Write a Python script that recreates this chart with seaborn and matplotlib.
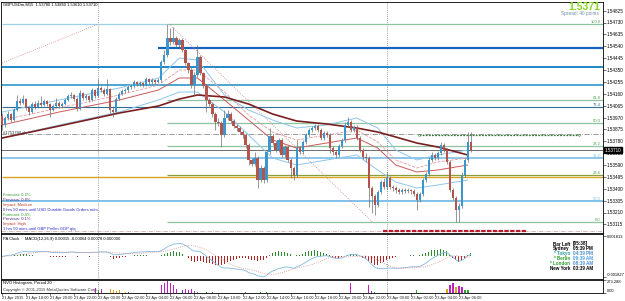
import numpy as np
import pandas as pd
import seaborn as sns
import matplotlib.pyplot as plt

# GBPUSD M15 bars, prices in points (1e-5)
first_open = 153982
closes = [153910, 153966, 153998, 153950, 154030, 154102, 154086, 154118, 154046, 154014,
          154078, 154054, 154086, 154070, 154102, 154078, 154030, 154062, 154086, 154062,
          154078, 154110, 154142, 154150, 154118, 154038, 154166, 154126, 154142, 154110,
          154190, 154142, 154206, 154190, 154158, 154198, 154030, 154014, 154118, 154158,
          154182, 154190, 154214, 154222, 154254, 154238, 154246, 154230, 154278, 154254,
          154270, 154254, 154270, 154414, 154470, 154606, 154574, 154606, 154550, 154590,
          154510, 154406, 154350, 154230, 154310, 154454, 154326, 154222, 154110, 154078,
          153998, 153934, 153926, 153830, 153966, 153998, 153942, 153902, 153886, 153854,
          153830, 153750, 153630, 153598, 153646, 153470, 153566, 153470, 153694, 153822,
          153766, 153710, 153790, 153670, 153734, 153630, 153566, 153510, 153726, 153694,
          153774, 153830, 153870, 153886, 153902, 153870, 153806, 153846, 153830, 153726,
          153694, 153670, 153742, 153790, 153910, 153934, 153870, 153894, 153806, 153710,
          153654, 153646, 153406, 153342, 153270, 153374, 153454, 153414, 153486, 153414,
          153406, 153390, 153374, 153390, 153382, 153390, 153382, 153358, 153310, 153358,
          153470, 153518, 153630, 153670, 153646, 153686, 153750, 153710, 153614, 153390,
          153326, 153230, 153262, 153510, 153630, 153774, 153710]
highs = [154006, 153982, 154022, 154006, 154046, 154150, 154126, 154150, 154126, 154062,
         154094, 154102, 154110, 154142, 154118, 154110, 154086, 154078, 154126, 154102,
         154094, 154126, 154158, 154174, 154158, 154134, 154190, 154174, 154158, 154150,
         154206, 154198, 154278, 154222, 154206, 154278, 154206, 154062, 154134, 154174,
         154198, 154206, 154230, 154238, 154270, 154262, 154262, 154254, 154294, 154286,
         154286, 154278, 154286, 154430, 154510, 154718, 154686, 154694, 154622, 154606,
         154606, 154526, 154414, 154374, 154334, 154550, 154470, 154334, 154238, 154126,
         154094, 154014, 153966, 153942, 154030, 154030, 154014, 153958, 153918, 153902,
         153870, 153846, 153766, 153646, 153694, 153662, 153590, 153582, 153710, 153886,
         153838, 153782, 153806, 153806, 153750, 153750, 153646, 153582, 153790, 153742,
         153790, 153846, 153886, 153902, 153918, 153918, 153886, 153862, 153862, 153846,
         153742, 153710, 153758, 153806, 153934, 153974, 153950, 153910, 153910, 153822,
         153726, 153686, 153662, 153422, 153358, 153390, 153470, 153486, 153534, 153502,
         153430, 153422, 153406, 153406, 153406, 153406, 153398, 153398, 153374, 153374,
         153486, 153534, 153654, 153694, 153686, 153702, 153774, 153766, 153726, 153630,
         153406, 153342, 153286, 153534, 153646, 153854, 153854]
lows = [153870, 153894, 153950, 153934, 153942, 154022, 154070, 154078, 154030, 153990,
        154006, 154038, 154046, 154054, 154062, 154062, 153974, 154022, 154054, 154046,
        154054, 154070, 154102, 154126, 154102, 154022, 154030, 154110, 154110, 154094,
        154102, 154126, 154134, 154174, 154142, 154150, 154006, 153974, 154006, 154110,
        154150, 154166, 154174, 154198, 154206, 154222, 154222, 154214, 154222, 154238,
        154238, 154238, 154246, 154254, 154398, 154454, 154550, 154558, 154534, 154534,
        154494, 154390, 154326, 154206, 154150, 154294, 154310, 154206, 154014, 154062,
        153974, 153870, 153902, 153734, 153814, 153950, 153926, 153886, 153862, 153838,
        153806, 153726, 153590, 153582, 153582, 153406, 153454, 153446, 153454, 153678,
        153750, 153694, 153694, 153654, 153654, 153614, 153486, 153470, 153494, 153678,
        153678, 153758, 153814, 153854, 153870, 153854, 153790, 153790, 153814, 153686,
        153670, 153646, 153654, 153726, 153774, 153894, 153854, 153854, 153790, 153694,
        153638, 153614, 153254, 153206, 153190, 153254, 153358, 153398, 153398, 153398,
        153382, 153366, 153358, 153358, 153366, 153366, 153358, 153342, 153230, 153294,
        153342, 153454, 153502, 153614, 153630, 153630, 153670, 153694, 153598, 153374,
        153310, 153134, 153134, 153246, 153494, 153614, 153694]
bar_hours = 0.25  # M15, bar 0 = 21 Apr 16:00

# moving averages / envelope, read at a few bars
ma_bars = [0, 19, 39, 52, 59, 65, 74, 82, 90, 98, 108, 118, 125, 131, 138, 145, 155]
ma_upper = [154014, 154110, 154206, 154286, 154446, 154430, 154150, 154030, 153950, 153886,
            153910, 153966, 153886, 153710, 153630, 153670, 153710]
ma_fast = [153950, 154046, 154150, 154230, 154350, 154350, 154174, 153990, 153854, 153790,
           153830, 153870, 153774, 153630, 153566, 153614, 153646]
ma_mid = [153910, 154014, 154110, 154190, 154286, 154286, 154110, 153950, 153790, 153726,
          153766, 153806, 153726, 153590, 153534, 153550, 153590]
ma_lower = [153806, 153910, 154014, 154110, 154174, 154174, 154014, 153830, 153646, 153590,
            153630, 153670, 153550, 153454, 153406, 153430, 153470]
ma_slow = [153806, 153902, 154006, 154062, 154118, 154150, 154134, 154078, 153998, 153942,
           153918, 153886, 153854, 153814, 153766, 153734, 153670]

# horizontal support / resistance lines
sr_prices = [154526, 154374, 154230, 154054, 153646, 153494, 153302]
sr_colors = ["#1565c0", "#1f88c6", "#2a97c9", "#2f6f98", "#7cbde6", "#d9a521", "#80c0e8"]
sr_widths = [1.6, 1.4, 1.2, 0.8, 1.2, 1.0, 1.4]
sr_start = [13.0, 0, 0, 0, 0, 0, 0]
sr_labels = ["", "", "", "76.4", "38.2", "", "50.0"]
entry_line = 153838
stop_line = 153062
target_seg = (34.7, 48.0, 153830)
red_seg = (31.7, 43.6, 153062)
fib_ratios = [0.0, 23.6, 38.2, 50.0, 61.8, 100.0]
trend1 = ([0.0, 8.0], [154406, 154718])
trend2 = ([13.9, 30.8], [154718, 153134])

day_breaks = [8, 32]
time_ticks = list(range(0, 40, 2))
time_labels = ["21 Apr 2015", "21 Apr 18:00", "21 Apr 20:00", "21 Apr 22:00", "22 Apr 00:00",
               "22 Apr 02:00", "22 Apr 04:00", "22 Apr 06:00", "22 Apr 08:00", "22 Apr 10:00",
               "22 Apr 12:00", "22 Apr 14:00", "22 Apr 16:00", "22 Apr 18:00", "22 Apr 20:00",
               "22 Apr 22:00", "23 Apr 00:00", "23 Apr 02:00", "23 Apr 04:00", "23 Apr 06:00"]
price_ticks = [153115, 153210, 153305, 153400, 153495, 153590, 153685, 153780, 153875, 153970,
               154065, 154160, 154255, 154350, 154445, 154540, 154635, 154730, 154825]

# NVO histogram (only the visible bars)
nvo_bars = [31, 32, 33, 36, 37, 38, 39, 41, 42, 53, 54, 55, 56, 57, 58, 60, 61, 62, 63, 64,
            65, 68, 70, 81, 86, 88, 116, 122, 123, 124, 138, 148, 149, 150, 151, 152, 153, 154, 155]
nvo_vals = [110, 70, 90, 80, 60, 50, 70, 25, 20, 160, 200, 250, 220, 160, 90, 60, 80, 60, 90,
            50, 30, 30, 25, 25, 25, 30, 200, 160, 40, 30, 60, 80, 170, 210, 130, 150, 120, 60, 60]
nvo_kind = ["m", "g", "m", "o", "o", "o", "o", "o", "p", "m", "m", "m", "m", "m", "m", "p", "m",
            "m", "m", "m", "g", "g", "g", "g", "g", "g", "m", "m", "p", "g", "g", "o", "m", "m",
            "o", "m", "m", "g", "g"]

sns.set_style("white")
plt.rcParams["font.family"] = ["Liberation Sans", "DejaVu Sans"]

pt = 1e-5
c = np.array(closes) * pt
h = np.array(highs) * pt
l = np.array(lows) * pt
o = np.r_[first_open * pt, c[:-1]]
t = np.arange(len(c)) * bar_hours

W, H = 625, 301
fig = plt.figure(figsize=(6.25, 3.01), dpi=100)


def box(x0, y0, x1, y1):
    return [x0 / W, 1 - y1 / H, (x1 - x0) / W, (y1 - y0) / H]


ax = fig.add_axes(box(1, 2, 603, 233))
axm = fig.add_axes(box(1, 234, 603, 279), sharex=ax)
axv = fig.add_axes(box(1, 280, 603, 293), sharex=ax)
ax.set_xlim(-0.1, 50.0)
ax.set_ylim(1.53046, 1.54894)

# horizontal levels
for p, col, lw, s0, lab in zip(sr_prices, sr_colors, sr_widths, sr_start, sr_labels):
    ax.hlines(p * pt, s0, 50.0, colors=col, lw=lw, zorder=1)
    if lab:
        ax.text(49.8, p * pt, lab, color=col, fontsize=3.0, ha="right", va="bottom")
ax.axhline(entry_line * pt, color="#8a8a8a", lw=0.6, ls="-.", zorder=1)
ax.axhline(stop_line * pt, color="#c0a0a0", lw=0.5, ls="-.", zorder=1)
ax.axhline(c[-1], color="#555555", lw=0.6, zorder=1)
fib_lo, fib_hi = min(lows) * pt, max(highs) * pt
fib_t0 = t[int(np.argmax(highs))]
for r in fib_ratios:
    lvl = fib_lo + r / 100 * (fib_hi - fib_lo)
    col = "#8a9f3a" if r == 23.6 else "#8cc4a2"
    ax.hlines(lvl, fib_t0, 50.0, colors=col, lw=0.9, zorder=1)
    ax.text(49.8, lvl, f"{r:.1f}", color="#4aa04a", fontsize=3.0, ha="right", va="bottom")
ax.hlines(fib_hi, 0, fib_t0, colors="#9fd0e8", lw=0.9, zorder=1)
ax.hlines(target_seg[2] * pt, target_seg[0], target_seg[1], colors="#2e7d32", lw=0.9,
          linestyles=(0, (1.5, 1)), zorder=2)
ax.plot([target_seg[0], target_seg[1]], [target_seg[2] * pt] * 2, "o", ms=1.2,
        mfc="white", mec="#2e7d32", mew=0.4)
ax.hlines(red_seg[2] * pt, red_seg[0], red_seg[1], colors="#b71c2c", lw=1.6,
          linestyles=(0, (2, 0.6)), zorder=2)
ax.plot(trend1[0], np.array(trend1[1]) * pt, color="#d88080", lw=0.6, ls=":")
ax.plot(trend2[0], np.array(trend2[1]) * pt, color="#d88080", lw=0.6, ls=":")

# moving averages
ma_t = np.array(ma_bars) * bar_hours
for vals, col, lw, ls in [(ma_upper, "#8ec6ea", 0.7, "-"), (ma_lower, "#8ec6ea", 0.7, "-"),
                          (ma_fast, "#e39a9a", 0.6, "--"), (ma_mid, "#c85a5a", 0.7, "-"),
                          (ma_slow, "#7a1f1f", 1.2, "-")]:
    sns.lineplot(x=ma_t, y=np.array(vals) * pt, ax=ax, color=col, lw=lw, ls=ls, zorder=2)

# candles
bull = c >= o
body_col = np.where(bull, "#3a96cb", "#b5534d")
ax.vlines(t, l, h, colors="#6d6d6d", lw=0.5, zorder=3)
ax.bar(t, np.maximum(np.abs(c - o), 0.00003), bottom=np.minimum(o, c), width=0.18,
       color=body_col, lw=0, zorder=4)

for a in (ax, axm, axv):
    for d in day_breaks:
        a.axvline(d, color="#808080", lw=0.6, ls=(0, (1, 1.5)), zorder=0)
    for s in a.spines.values():
        s.set_color("black")
        s.set_linewidth(0.6)
    a.yaxis.tick_right()
    a.tick_params(axis="y", labelsize=3.3, length=2, width=0.4, pad=1, colors="black")
    a.set_xlabel("")
    a.set_ylabel("")

ax.set_yticks(np.array(price_ticks) * pt)
ax.set_yticklabels([f"{v * pt:.5f}" for v in price_ticks])
ax.tick_params(axis="x", bottom=False, labelbottom=False)
ax.annotate(f"{c[-1]:.5f}", xy=(1.0, c[-1]), xycoords=("axes fraction", "data"),
            xytext=(1.5, 0), textcoords="offset points", fontsize=3.3, color="white",
            va="center", ha="left", bbox=dict(boxstyle="square,pad=0.15", fc="black", ec="black"))

# MACD panel
s = pd.Series(c)
macd = s.ewm(span=12, adjust=False).mean() - s.ewm(span=26, adjust=False).mean()
signal = macd.rolling(9, min_periods=1).mean()
hist = macd - signal
axm.bar(t, hist, width=0.1, color=np.where(hist >= 0, "#2e8b2e", "#b22222"), lw=0)
sns.lineplot(x=t, y=macd.values, ax=axm, color="#7fb9e0", lw=0.6)
sns.lineplot(x=t, y=signal.values, ax=axm, color="#e08a8a", lw=0.6, ls=":")
lo = min(macd.min(), hist.min())
hi = max(macd.max(), hist.max())
rng = hi - lo
axm.set_ylim(lo - 0.06 * rng, hi + 0.28 * rng)
axm.set_yticks([hi + 0.22 * rng, lo])
axm.set_yticklabels([f"{hi + 0.22 * rng:.6f}", f"{lo:.6f}"], fontsize=2.9)
axm.get_yticklabels()[1].set_va("bottom")
axm.tick_params(axis="x", bottom=False, labelbottom=False)
axm.set_xlabel("")
axm.set_ylabel("")
axm.text(0.004, 0.93, "PA Clock     MACD(12,26,9) 0.00015 -0.00064 0.00078 0.000000",
         transform=axm.transAxes, fontsize=3.0, va="top", color="black")

# NVO panel
kind_col = {"m": "#c020c0", "g": "#2fa02f", "o": "#e0a010", "p": "#6a3fb0"}
axv.axhline(8, color="#6a3fb0", lw=0.7, ls=(0, (2, 2)), xmax=0.79)
axv.bar(np.array(nvo_bars) * bar_hours, nvo_vals, width=0.12,
        color=[kind_col[k] for k in nvo_kind], lw=0)
axv.set_ylim(0, 273.288)
axv.set_yticks([0, 273.288])
axv.set_yticklabels(["0.00", "273.288"], fontsize=2.9)
axv.get_yticklabels()[0].set_va("bottom")
axv.get_yticklabels()[1].set_va("top")
axv.set_xticks(time_ticks)
axv.set_xticklabels(time_labels, ha="left")
axv.tick_params(axis="x", labelsize=2.9, length=2, width=0.4, pad=0.5, bottom=True)
axv.set_xlabel("")
axv.set_ylabel("")
axv.text(0.004, 0.95, "NVO Histogram, Period 20", transform=axv.transAxes, fontsize=3.0,
         va="top", color="black")
axv.text(0.004, 0.05, "Copyright \u00a9 2001-2015 MetaQuotes Software Corp.",
         transform=axv.transAxes, fontsize=3.0, va="bottom", color="#333333")

# texts on the main chart
fig.text(3 / W, 1 - 4.5 / H, "GBPUSDm,M15  1.53780 1.53860 1.53610 1.53710", fontsize=3.0,
         va="center", color="black")
fig.text(600 / W, 1 - 7 / H, "1.5371", fontsize=7.5, fontweight="bold", color="#86d61e",
         ha="right", va="center")
fig.text(599 / W, 1 - 14 / H, "Spread: 40 points", fontsize=3.4, color="#6f8faf",
         ha="right", va="center")
fig.text(3 / W, 1 - 133 / H, "#1753780 sl", fontsize=3.0, color="#333333", va="center")

news = [("Forecast: 0.2%", "#2e9a2e"), ("Previous: 0.8%", "#5b2a86"), ("Impact: Medium", "#c0392b"),
        ("0 hrs 50 mins until USD Durable Goods Orders m/m", "#2b2bcc"),
        ("Forecast: 0.4%", "#2e9a2e"), ("Previous: 0.1%", "#5b2a86"), ("Impact: High", "#c0392b"),
        ("1 hrs 50 mins until GBP Prelim GDP q/q", "#2b2bcc")]
for k, (txt, col) in enumerate(news):
    fig.text(3 / W, 1 - (195 + k * 4.9) / H, txt, fontsize=3.0, color=col, va="center")

clock = [("Bar Left", "[05:38]", "black", "black"), ("Sydney", "05:39 PM", "black", "black"),
         ("* Tokyo", "04:39 PM", "#2fa0a0", "#4a8fd0"), ("* Berlin", "09:39 AM", "#2fa02f", "#4aa0e0"),
         ("* London", "08:39 AM", "#2fa02f", "#4a8fd0"), ("New York", "03:39 AM", "black", "black")]
for k, (city, tm, c1, c2) in enumerate(clock):
    yy = 1 - (244 + k * 4.9) / H
    fig.text(570 / W, yy, city, fontsize=3.3, color=c1, ha="right", va="center", fontweight="bold")
    fig.text(573 / W, yy, tm, fontsize=3.3, color=c2, ha="left", va="center", fontweight="bold")

fig.savefig("out.png", dpi=100)
